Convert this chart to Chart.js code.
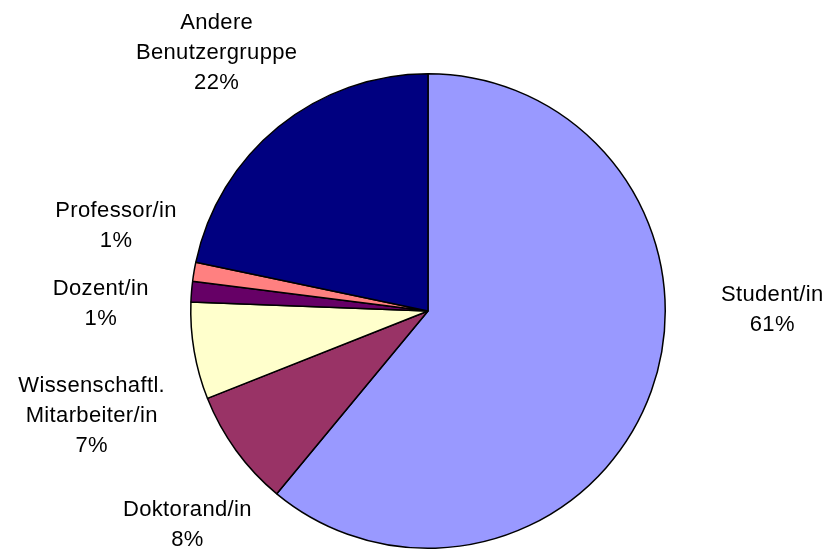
<!DOCTYPE html>
<html>
<head>
<meta charset="utf-8">
<script src="https://cdn.jsdelivr.net/npm/chart.js@4/dist/chart.umd.min.js"></script>
<style>
    html, body { margin: 0; padding: 0; background: #fff; }
    #wrap { width: 827px; height: 550px; position: relative; }
</style>
</head>
<body>
<div id="wrap"><canvas id="pie-chart"></canvas></div>
<script>
// Slices, clockwise from 12 o'clock
const categories = ['Student/in', 'Doktorand/in', 'Wissenschaftl.\nMitarbeiter/in', 'Dozent/in', 'Professor/in', 'Andere\nBenutzergruppe'];
const shares = [61.0, 8.0, 6.6, 1.4, 1.3, 21.7];
const sliceColors = ['#9999FF', '#993366', '#FFFFCC', '#660066', '#FF8080', '#000080'];

// Where Excel pushed each label: angle nudge (deg) and gap beyond the rim (px)
const labelShift = [-20, -5.7, -7.6, -3.5, 5.7, -0.3];
const labelGap = [107, 85, 115, 90, 86, 96];

const outsideLabels = {
    id: 'outsideLabels',
    afterDatasetsDraw(chart) {
        const ctx = chart.ctx;
        const meta = chart.getDatasetMeta(0);
        const total = shares.reduce((a, b) => a + b, 0);
        ctx.save();
        ctx.font = '22px "Liberation Sans", Arial, sans-serif';
        ctx.letterSpacing = '0.35px';
        ctx.fillStyle = '#000';
        ctx.textAlign = 'center';
        ctx.textBaseline = 'middle';
        meta.data.forEach((arc, i) => {
            const p = arc.getProps(['x', 'y', 'startAngle', 'endAngle', 'outerRadius'], true);
            const mid = (p.startAngle + p.endAngle) / 2 + labelShift[i] * Math.PI / 180;
            const dist = p.outerRadius + labelGap[i];
            const cx = p.x + Math.cos(mid) * dist;
            const cy = p.y + Math.sin(mid) * dist;
            const lines = categories[i].split('\n');
            lines.push(Math.round(shares[i] / total * 100) + '%');
            const lh = 30;
            const top = cy - (lines.length - 1) * lh / 2;
            lines.forEach((t, k) => ctx.fillText(t, cx, top + k * lh));
        });
        ctx.restore();
    }
};

const ctx = document.getElementById('pie-chart').getContext('2d');
new Chart(ctx, {
    type: 'pie',
    data: {
        labels: categories,
        datasets: [{
            data: shares,
            backgroundColor: sliceColors,
            borderColor: '#000',
            borderWidth: 1.5,
            hoverOffset: 0
        }]
    },
    options: {
        responsive: true,
        maintainAspectRatio: false,
        animation: false,
        layout: { padding: { left: 190, right: 161, top: 73, bottom: 1 } },
        plugins: {
            legend: { display: false },
            tooltip: { enabled: false }
        }
    },
    plugins: [outsideLabels]
});
</script>
</body>
</html>
